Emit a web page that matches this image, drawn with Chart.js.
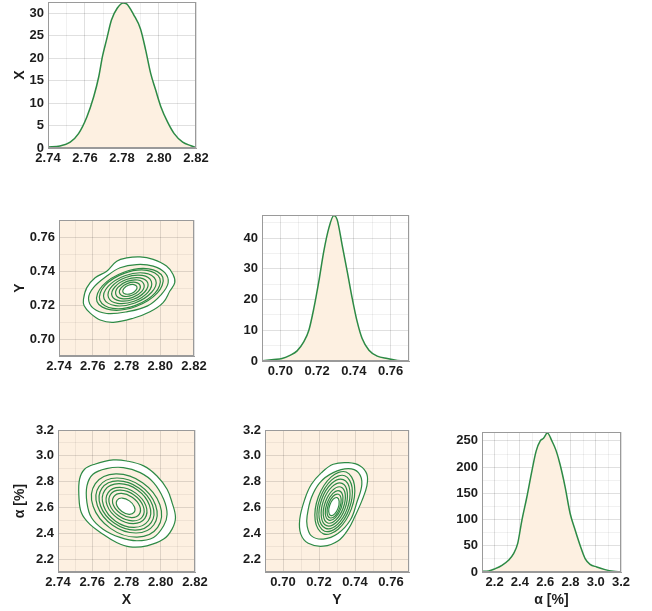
<!DOCTYPE html>
<html>
<head>
<meta charset="utf-8">
<script src="https://cdn.jsdelivr.net/npm/chart.js@4.4.1/dist/chart.umd.min.js"></script>
<style>
  html, body { margin: 0; padding: 0; background: #fff; }
  #wrap { position: relative; width: 652px; height: 611px; overflow: hidden; }
  #wrap canvas { position: absolute; }
</style>
</head>
<body>
<div id="wrap"></div>
<script>
// ---- marginal densities ----
const xGrid = [2.74, 2.7465, 2.752, 2.7565, 2.761, 2.7647, 2.7674, 2.7695, 2.7716, 2.7743, 2.7774, 2.7806, 2.7825, 2.7864, 2.790, 2.7928, 2.7955, 2.7982, 2.801, 2.8046, 2.8082, 2.8128, 2.8173, 2.82];
const xDensity = [0.2, 0.45, 1.3, 3.2, 6.9, 11.4, 15.8, 20.5, 24.0, 28.5, 31.1, 32.3, 32.1, 29.6, 26.5, 21.8, 16.6, 12.9, 9.2, 5.8, 3.2, 1.3, 0.5, 0.1];

const yGrid = [0.6904, 0.6964, 0.7009, 0.7055, 0.7091, 0.7127, 0.7155, 0.7182, 0.7209, 0.7236, 0.7264, 0.7291, 0.7309, 0.7336, 0.7364, 0.7391, 0.7418, 0.7445, 0.7482, 0.7527, 0.7582, 0.7636, 0.770];
const yDensity = [0.1, 0.5, 0.8, 1.9, 3.3, 6.2, 10.0, 17.1, 25.8, 35.6, 43.3, 47.3, 46.0, 37.8, 29.1, 20.4, 12.8, 7.3, 3.5, 1.6, 0.8, 0.2, 0.05];

const aGrid = [2.1, 2.153, 2.205, 2.258, 2.31, 2.35, 2.382, 2.416, 2.455, 2.495, 2.529, 2.561, 2.587, 2.618, 2.653, 2.687, 2.718, 2.758, 2.797, 2.837, 2.876, 2.916, 2.955, 3.008, 3.074, 3.139, 3.2];
const aDensity = [1.3, 2, 6.4, 12.8, 22.3, 35, 54, 99, 143, 193, 231, 250, 255, 265, 250, 231, 205, 162, 112, 80, 51, 25.5, 14.7, 9.6, 4.5, 1.3, 0];

// ---- contour rings, outermost first ----
const xyRings = [
  [[2.7545,0.7234],[2.7565,0.7302],[2.7614,0.7360],[2.7683,0.7399],[2.7742,0.7458],[2.7801,0.7477],[2.7880,0.7483],[2.7958,0.7468],[2.8037,0.7429],[2.8076,0.7380],[2.8086,0.7331],[2.8057,0.7282],[2.8017,0.7214],[2.7939,0.7160],[2.7840,0.7122],[2.7722,0.7098],[2.7644,0.7112],[2.7585,0.7152],[2.7549,0.7195]],
  [[2.7575,0.7238],[2.7604,0.7302],[2.7683,0.7370],[2.7762,0.7419],[2.7860,0.7438],[2.7958,0.7429],[2.8027,0.7390],[2.8047,0.7331],[2.8007,0.7263],[2.7925,0.7195],[2.7801,0.7160],[2.7683,0.7150],[2.7604,0.7180]],
  [[2.8015,0.7363],[2.7932,0.7413],[2.7784,0.7393],[2.7657,0.7313],[2.7625,0.7221],[2.7708,0.7171],[2.7856,0.7191],[2.7983,0.7271]],
  [[2.7998,0.7356],[2.7921,0.7404],[2.7786,0.7386],[2.7670,0.7313],[2.7642,0.7228],[2.7719,0.7180],[2.7854,0.7198],[2.7970,0.7271]],
  [[2.7973,0.7347],[2.7907,0.7388],[2.7790,0.7372],[2.7691,0.7309],[2.7667,0.7237],[2.7733,0.7196],[2.7850,0.7212],[2.7949,0.7275]],
  [[2.7947,0.7339],[2.7893,0.7374],[2.7795,0.7362],[2.7712,0.7308],[2.7693,0.7245],[2.7747,0.7210],[2.7845,0.7222],[2.7928,0.7276]],
  [[2.7926,0.7330],[2.7880,0.7360],[2.7799,0.7350],[2.7731,0.7306],[2.7714,0.7254],[2.7760,0.7224],[2.7841,0.7234],[2.7909,0.7278]],
  [[2.7903,0.7322],[2.7867,0.7347],[2.7803,0.7339],[2.7749,0.7304],[2.7737,0.7262],[2.7773,0.7237],[2.7837,0.7245],[2.7891,0.7280]],
  [[2.7881,0.7314],[2.7854,0.7333],[2.7807,0.7327],[2.7768,0.7301],[2.7759,0.7270],[2.7786,0.7251],[2.7833,0.7257],[2.7872,0.7283]],
  [[2.7862,0.7307],[2.7844,0.7320],[2.7811,0.7316],[2.7785,0.7298],[2.7778,0.7277],[2.7796,0.7264],[2.7829,0.7268],[2.7855,0.7286]]
];

const xaRings = [
  [[2.7526,2.819],[2.7555,2.896],[2.7614,2.935],[2.7722,2.968],[2.7801,2.960],[2.7900,2.922],[2.7978,2.844],[2.8037,2.741],[2.8066,2.638],[2.8086,2.522],[2.8066,2.432],[2.8017,2.355],[2.7919,2.303],[2.7821,2.295],[2.7742,2.329],[2.7663,2.393],[2.7585,2.471],[2.7536,2.561],[2.7522,2.690]],
  [[2.7569,2.767],[2.7604,2.857],[2.7683,2.901],[2.7781,2.909],[2.7880,2.870],[2.7958,2.793],[2.8017,2.664],[2.8037,2.548],[2.8017,2.458],[2.7958,2.368],[2.7860,2.342],[2.7762,2.368],[2.7663,2.432],[2.7595,2.522],[2.7569,2.638]],
  [[2.7982,2.446],[2.7995,2.621],[2.7894,2.792],[2.7738,2.860],[2.7618,2.784],[2.7605,2.609],[2.7706,2.438],[2.7862,2.370]],
  [[2.7960,2.466],[2.7970,2.617],[2.7881,2.768],[2.7743,2.828],[2.7640,2.764],[2.7630,2.613],[2.7719,2.462],[2.7857,2.402]],
  [[2.7944,2.482],[2.7952,2.617],[2.7872,2.751],[2.7749,2.806],[2.7656,2.748],[2.7648,2.613],[2.7728,2.479],[2.7851,2.424]],
  [[2.7927,2.497],[2.7934,2.617],[2.7864,2.736],[2.7756,2.784],[2.7673,2.733],[2.7666,2.613],[2.7736,2.494],[2.7844,2.446]],
  [[2.7907,2.515],[2.7913,2.614],[2.7852,2.713],[2.7761,2.755],[2.7693,2.715],[2.7687,2.616],[2.7748,2.517],[2.7839,2.475]],
  [[2.7893,2.528],[2.7897,2.612],[2.7844,2.697],[2.7765,2.734],[2.7707,2.702],[2.7703,2.618],[2.7756,2.533],[2.7835,2.496]],
  [[2.7874,2.546],[2.7877,2.611],[2.7833,2.679],[2.7771,2.709],[2.7726,2.684],[2.7723,2.619],[2.7767,2.551],[2.7829,2.521]],
  [[2.7845,2.564],[2.7846,2.606],[2.7817,2.651],[2.7775,2.673],[2.7745,2.656],[2.7744,2.614],[2.7773,2.569],[2.7815,2.547]]
];

const yaRings = [
  [[0.7093,2.509],[0.7121,2.664],[0.7158,2.780],[0.7214,2.870],[0.7279,2.935],[0.7363,2.947],[0.7429,2.922],[0.7466,2.857],[0.7466,2.767],[0.7438,2.651],[0.7401,2.535],[0.7363,2.432],[0.7307,2.342],[0.7224,2.300],[0.7140,2.322],[0.7099,2.393]],
  [[0.7134,2.535],[0.7158,2.677],[0.7205,2.793],[0.7279,2.870],[0.7363,2.901],[0.7419,2.870],[0.7438,2.780],[0.7410,2.638],[0.7375,2.505],[0.7305,2.398],[0.7224,2.355],[0.7158,2.380],[0.7134,2.458]],
  [[0.7351,2.875],[0.7268,2.837],[0.7196,2.681],[0.7179,2.498],[0.7225,2.395],[0.7308,2.433],[0.7380,2.589],[0.7397,2.772]],
  [[0.7343,2.846],[0.7269,2.812],[0.7206,2.672],[0.7190,2.509],[0.7231,2.416],[0.7305,2.450],[0.7368,2.590],[0.7384,2.753]],
  [[0.7335,2.816],[0.7271,2.787],[0.7215,2.663],[0.7201,2.519],[0.7237,2.438],[0.7301,2.467],[0.7357,2.591],[0.7371,2.735]],
  [[0.7328,2.787],[0.7273,2.761],[0.7225,2.653],[0.7213,2.528],[0.7242,2.459],[0.7297,2.485],[0.7345,2.593],[0.7357,2.718]],
  [[0.7321,2.758],[0.7276,2.734],[0.7236,2.644],[0.7224,2.539],[0.7249,2.480],[0.7294,2.504],[0.7334,2.594],[0.7346,2.699]],
  [[0.7313,2.728],[0.7277,2.709],[0.7245,2.635],[0.7235,2.549],[0.7255,2.502],[0.7291,2.521],[0.7323,2.595],[0.7333,2.681]],
  [[0.7308,2.702],[0.7278,2.687],[0.7253,2.627],[0.7245,2.558],[0.7260,2.520],[0.7290,2.535],[0.7315,2.595],[0.7323,2.664]],
  [[0.7301,2.676],[0.7279,2.664],[0.7260,2.619],[0.7254,2.567],[0.7265,2.538],[0.7287,2.550],[0.7306,2.595],[0.7312,2.647]]
];

// ---- axis ticks ----
const xTicks = [2.74, 2.75, 2.76, 2.77, 2.78, 2.79, 2.80, 2.81, 2.82];
const xLabels = ['2.74', '2.76', '2.78', '2.80', '2.82'];
const yTicks = [0.69, 0.70, 0.71, 0.72, 0.73, 0.74, 0.75, 0.76, 0.77];
const yLabels = ['0.70', '0.72', '0.74', '0.76'];
const aTicks = [2.1, 2.2, 2.3, 2.4, 2.5, 2.6, 2.7, 2.8, 2.9, 3.0, 3.1, 3.2];
const aLabels = ['2.2', '2.4', '2.6', '2.8', '3.0', '3.2'];
const xDensTicks = [0, 5, 10, 15, 20, 25, 30];
const xDensLabels = ['0', '5', '10', '15', '20', '25', '30'];
const yDensTicks = [0, 5, 10, 15, 20, 25, 30, 35, 40, 45];
const yDensLabels = ['0', '10', '20', '30', '40'];
const aDensTicks = [0, 25, 50, 75, 100, 125, 150, 175, 200, 225, 250];
const aDensLabels = ['0', '50', '100', '150', '200', '250'];

const GREEN = '#2d8a45';
const PEACH = '#fdf0e1';
const INK = '#1c1c1c';

Chart.defaults.font.family = '"Liberation Sans", Arial, sans-serif';

function labelFor(labels, v) {
  const hit = labels.find(l => Math.abs(parseFloat(l) - v) < 1e-9);
  return hit === undefined ? '' : hit;
}

function axis(o) {
  return {
    type: 'linear', min: o.min, max: o.max,
    afterBuildTicks: s => { s.ticks = o.ticks.map(v => ({ value: v })); },
    afterFit: s => {
      if (o.y) s.width = o.size; else s.height = o.size;
      s.paddingLeft = s.paddingRight = s.paddingTop = s.paddingBottom = 0;
    },
    ticks: {
      autoSkip: false, maxRotation: 0, minRotation: 0, padding: o.y ? 4 : 3,
      color: INK, font: { size: 13, weight: 'bold' },
      callback: v => labelFor(o.labels, v)
    },
    grid: {
      drawTicks: false,
      color: c => (c.tick && labelFor(o.labels, c.tick.value) !== '') ? 'rgba(0,0,0,0.12)' : 'rgba(0,0,0,0.055)'
    },
    border: { color: '#9a9a9a' },
    title: o.title ? {
      display: true, text: o.title, color: INK,
      font: { size: 14, weight: 'bold' },
      padding: o.y ? { top: 12, bottom: 0 } : { top: 0, bottom: 3 }
    } : { display: false }
  };
}

// background of the plot area and the grey frame round it
const framePlugin = {
  id: 'frame',
  beforeDraw(chart, args, opts) {
    const a = chart.chartArea, c = chart.ctx;
    c.save();
    c.fillStyle = opts.bg || '#fff';
    c.fillRect(a.left, a.top, a.right - a.left, a.bottom - a.top);
    c.restore();
  },
  afterDraw(chart) {
    const a = chart.chartArea, c = chart.ctx;
    c.save();
    c.strokeStyle = '#9a9a9a';
    c.lineWidth = 1;
    c.strokeRect(a.left + 0.5, a.top + 0.5, a.right - a.left - 1, a.bottom - a.top - 1);
    c.restore();
  }
};

// make ring datasets closed curves
const loopPlugin = {
  id: 'closeLoop',
  afterDatasetUpdate(chart, args) {
    const ds = chart.data.datasets[args.index];
    if (ds.closed && args.meta.dataset) {
      args.meta.dataset._loop = true;
      args.meta.dataset._fullLoop = true;
    }
  }
};

function densitySet(xs, ys) {
  return [{
    data: xs.map((x, i) => ({ x: x, y: ys[i] })),
    showLine: true, pointRadius: 0, borderColor: GREEN, borderWidth: 1.5,
    backgroundColor: PEACH, fill: 'origin', cubicInterpolationMode: 'monotone'
  }];
}

function ringSets(rings) {
  const n = rings.length;
  return rings.map((r, i) => ({
    data: r.map(p => ({ x: p[0], y: p[1] })),
    closed: true, showLine: true, pointRadius: 0,
    borderColor: GREEN, borderWidth: 1.2, tension: 0.38,
    fill: (i === 0 || i === 1 || i === n - 1) ? 'shape' : false,
    backgroundColor: i === 1 ? PEACH : '#ffffff',
    order: n - i
  }));
}

function panel(p) {
  const pt = 10, pr = 20;
  const cv = document.createElement('canvas');
  cv.width = p.yw + p.w + pr;
  cv.height = pt + p.h + p.xh;
  cv.style.left = (p.left - p.yw) + 'px';
  cv.style.top = (p.top - pt) + 'px';
  document.getElementById('wrap').appendChild(cv);
  new Chart(cv, {
    type: 'scatter',
    data: { datasets: p.datasets },
    options: {
      responsive: false, animation: false, events: [],
      layout: { padding: { left: 0, top: pt, right: pr, bottom: 0 } },
      plugins: { legend: { display: false }, tooltip: { enabled: false }, frame: { bg: p.bg } },
      scales: {
        x: axis(Object.assign({ y: false, size: p.xh }, p.x)),
        y: axis(Object.assign({ y: true, size: p.yw }, p.y))
      }
    },
    plugins: [framePlugin, loopPlugin]
  });
}

// X marginal
panel({ left: 48, top: 2, w: 148, h: 146, yw: 48, xh: 40, bg: '#ffffff',
  datasets: densitySet(xGrid, xDensity),
  x: { min: 2.74, max: 2.82, ticks: xTicks, labels: xLabels },
  y: { min: 0, max: 32.5, ticks: xDensTicks, labels: xDensLabels, title: 'X' } });

// Y vs X
panel({ left: 59, top: 220, w: 135, h: 136, yw: 59, xh: 40, bg: PEACH,
  datasets: ringSets(xyRings),
  x: { min: 2.74, max: 2.82, ticks: xTicks, labels: xLabels },
  y: { min: 0.69, max: 0.77, ticks: yTicks, labels: yLabels, title: 'Y' } });

// Y marginal
panel({ left: 262, top: 215, w: 147, h: 146, yw: 42, xh: 40, bg: '#ffffff',
  datasets: densitySet(yGrid, yDensity),
  x: { min: 0.69, max: 0.77, ticks: yTicks, labels: yLabels },
  y: { min: 0, max: 47.5, ticks: yDensTicks, labels: yDensLabels } });

// alpha vs X
panel({ left: 58, top: 430, w: 137, h: 142, yw: 58, xh: 40, bg: PEACH,
  datasets: ringSets(xaRings),
  x: { min: 2.74, max: 2.82, ticks: xTicks, labels: xLabels, title: 'X' },
  y: { min: 2.1, max: 3.2, ticks: aTicks, labels: aLabels, title: 'α [%]' } });

// alpha vs Y
panel({ left: 265, top: 430, w: 144, h: 142, yw: 45, xh: 40, bg: PEACH,
  datasets: ringSets(yaRings),
  x: { min: 0.69, max: 0.77, ticks: yTicks, labels: yLabels, title: 'Y' },
  y: { min: 2.1, max: 3.2, ticks: aTicks, labels: aLabels } });

// alpha marginal
panel({ left: 482, top: 432, w: 139, h: 140, yw: 52, xh: 40, bg: '#ffffff',
  datasets: densitySet(aGrid, aDensity),
  x: { min: 2.1, max: 3.2, ticks: aTicks, labels: aLabels, title: 'α [%]' },
  y: { min: 0, max: 267, ticks: aDensTicks, labels: aDensLabels } });
</script>
</body>
</html>
